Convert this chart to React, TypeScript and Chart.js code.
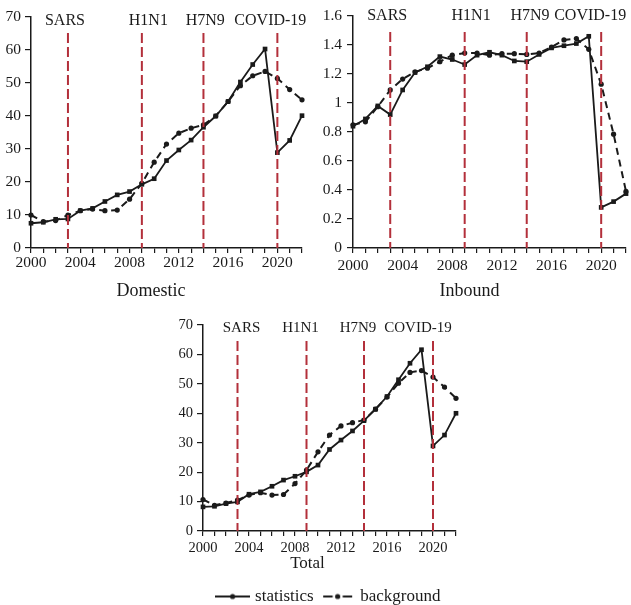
import React, { useEffect, useRef } from 'react';
import { Chart, registerables } from 'chart.js';

Chart.register(...registerables);

// ---------- data ----------
const years = [2000, 2001, 2002, 2003, 2004, 2005, 2006, 2007, 2008, 2009, 2010, 2011,
  2012, 2013, 2014, 2015, 2016, 2017, 2018, 2019, 2020, 2021, 2022];

const domesticStatistics = [7.5, 7.8, 8.7, 8.8, 11.3, 12.0, 14.1, 16.1, 17.1, 19.3, 21.0, 26.5,
  29.7, 32.7, 36.6, 40.0, 44.4, 50.3, 55.6, 60.3, 28.9, 32.6, 40.1];
const domesticBackground = [10.0, 8.0, 8.3, 10.0, 11.3, 11.8, 11.3, 11.5, 14.8, 19.6, 26.0, 31.5,
  34.8, 36.3, 37.3, 40.0, 44.4, 49.2, 52.2, 53.5, 51.4, 48.0, 44.9];

const inboundStatistics = [0.84, 0.89, 0.98, 0.92, 1.09, 1.21, 1.25, 1.32, 1.30, 1.265, 1.33, 1.35,
  1.33, 1.29, 1.285, 1.335, 1.38, 1.395, 1.41, 1.46, 0.28, 0.32, 0.375];
const inboundBackground = [0.85, 0.87, 0.975, 1.09, 1.165, 1.215, 1.24, 1.285, 1.33, 1.345, 1.345, 1.33,
  1.34, 1.34, 1.335, 1.345, 1.385, 1.435, 1.445, 1.37, 1.13, 0.785, 0.39];

const totalStatistics = [8.2, 8.4, 9.3, 9.9, 12.5, 13.3, 15.2, 17.3, 18.6, 20.1, 22.4, 27.7,
  30.9, 34.0, 37.5, 41.4, 45.7, 51.4, 57.0, 61.6, 28.9, 32.6, 40.0];
const totalBackground = [10.7, 8.75, 9.5, 10.5, 12.2, 13.0, 12.2, 12.4, 16.1, 20.7, 26.9, 32.6,
  35.7, 36.8, 37.7, 41.4, 45.5, 50.2, 53.9, 54.5, 52.3, 48.9, 45.1];

const seriesNames = ['statistics', 'background'];
const eventYears = [2003, 2009, 2014, 2020];
const eventNames = ['SARS', 'H1N1', 'H7N9', 'COVID-19'];
const xLabelEvery = 4;

// ---------- styling ----------
const SERIF = '"Liberation Serif", "Times New Roman", serif';
const INK = '#1a1a1a';
const EVENT_RED = '#b3303b';

type PanelCfg = {
  x: number; y: number; w: number; h: number;
  title: string; titleSize: number; titleWeight?: number; titlePadBottom: number;
  stats: number[]; bg: number[];
  yMax: number; yStep: number;
  padTop: number; padRight: number;
  yWidth: number; xHeight: number;
  xPad: number; yPad: number;
  tickSize: number;
  eventSize: number; eventDx: number[]; eventDy: number;
  legend: boolean;
};

function makeSwatch(dashed: boolean): HTMLCanvasElement {
  const c = document.createElement('canvas');
  c.width = 35; c.height = 8;
  const g = c.getContext('2d')!;
  g.strokeStyle = INK; g.lineWidth = 2;
  g.beginPath();
  if (dashed) {
    g.moveTo(3, 4); g.lineTo(12.5, 4);
    g.moveTo(22.5, 4); g.lineTo(32, 4);
  } else {
    g.moveTo(0, 4); g.lineTo(35, 4);
  }
  g.stroke();
  g.fillStyle = INK; g.beginPath(); g.arc(17.5, 4, 2.6, 0, Math.PI * 2); g.fill();
  return c;
}

function makeEventPlugin(cfg: PanelCfg) {
  return {
    id: 'eventLines',
    afterDatasetsDraw(chart: any) {
      const { ctx, chartArea, scales } = chart;
      const xs = scales.x;
      ctx.save();
      ctx.strokeStyle = EVENT_RED;
      ctx.lineWidth = 2;
      ctx.setLineDash([10, 4]);
      eventYears.forEach((yr) => {
        const px = xs.getPixelForValue(yr);
        ctx.beginPath();
        ctx.moveTo(px, chartArea.top + 16);
        ctx.lineTo(px, chartArea.bottom);
        ctx.stroke();
      });
      ctx.setLineDash([]);
      ctx.fillStyle = INK;
      ctx.font = `${cfg.eventSize}px ${SERIF}`;
      ctx.textAlign = 'center';
      ctx.textBaseline = 'middle';
      eventNames.forEach((name, i) => {
        const px = xs.getPixelForValue(eventYears[i]);
        ctx.fillText(name, px + cfg.eventDx[i], chartArea.top + cfg.eventDy);
      });
      ctx.restore();
    },
  };
}

function buildConfig(cfg: PanelCfg): any {
  const toPoints = (arr: number[]) => years.map((x, i) => ({ x, y: arr[i] }));
  const swatches = [makeSwatch(false), makeSwatch(true)];
  return {
    type: 'line',
    data: {
      datasets: [
        {
          label: seriesNames[0],
          data: toPoints(cfg.stats),
          borderColor: INK,
          borderWidth: 1.8,
          pointStyle: 'rect',
          pointRadius: 3.3,
          pointBackgroundColor: INK,
          pointBorderWidth: 0,
          tension: 0,
          clip: false,
        },
        {
          label: seriesNames[1],
          data: toPoints(cfg.bg),
          borderColor: INK,
          borderWidth: 2,
          borderDash: [7, 5],
          pointStyle: 'circle',
          pointRadius: 2.6,
          pointBackgroundColor: INK,
          pointBorderWidth: 0,
          tension: 0,
          clip: false,
        },
      ],
    },
    options: {
      responsive: false,
      animation: false,
      events: [],
      layout: { padding: { top: cfg.padTop, right: cfg.padRight, left: 0, bottom: 0 } },
      scales: {
        x: {
          type: 'linear',
          min: years[0],
          max: years[years.length - 1],
          afterFit: (s: any) => { s.height = cfg.xHeight; },
          border: { display: true, color: INK, width: 1.5 },
          grid: { display: true, drawOnChartArea: false, drawTicks: true, tickLength: 5, color: INK, lineWidth: 1.2 },
          ticks: {
            stepSize: 1,
            autoSkip: false,
            maxRotation: 0,
            padding: cfg.xPad,
            color: INK,
            font: { family: SERIF, size: cfg.tickSize },
            callback: (v: number) => (v % xLabelEvery === 0 ? String(v) : ''),
          },
        },
        y: {
          type: 'linear',
          min: 0,
          max: cfg.yMax,
          afterFit: (s: any) => { s.width = cfg.yWidth; },
          border: { display: true, color: INK, width: 1.5 },
          grid: { display: true, drawOnChartArea: false, drawTicks: true, tickLength: 6, color: INK, lineWidth: 1.2 },
          ticks: {
            stepSize: cfg.yStep,
            padding: cfg.yPad,
            color: INK,
            font: { family: SERIF, size: cfg.tickSize },
            callback: (v: number) => String(Number(v.toFixed(2))),
          },
        },
      },
      plugins: {
        tooltip: { enabled: false },
        title: {
          display: true,
          text: cfg.title,
          position: 'bottom',
          weight: cfg.titleWeight ?? 2000,
          color: INK,
          padding: { top: 0, bottom: cfg.titlePadBottom },
          font: { family: SERIF, size: cfg.titleSize, weight: 'normal', lineHeight: 1 },
        },
        legend: {
          display: cfg.legend,
          position: 'bottom',
          fullSize: false,
          labels: {
            usePointStyle: true,
            pointStyleWidth: 28,
            padding: 10,
            color: INK,
            font: { family: SERIF, size: 17 },
            generateLabels: (chart: any) =>
              chart.data.datasets.map((ds: any, i: number) => ({
                text: ds.label,
                pointStyle: swatches[i],
                fillStyle: INK,
                strokeStyle: INK,
                lineWidth: 0,
                hidden: false,
                datasetIndex: i,
                fontColor: INK,
              })),
          },
        },
      },
    },
    plugins: [makeEventPlugin(cfg)],
  };
}

const panels: PanelCfg[] = [
  {
    x: 0, y: 0, w: 312, h: 300,
    title: 'Domestic', titleSize: 18, titlePadBottom: 0,
    stats: domesticStatistics, bg: domesticBackground,
    yMax: 70, yStep: 10,
    padTop: 17, padRight: 10, yWidth: 31, xHeight: 34,
    xPad: 1, yPad: 4, tickSize: 15.5,
    eventSize: 16, eventDx: [-3, 6.5, 1.8, -7], eventDy: 3.5,
    legend: false,
  },
  {
    x: 313, y: 0, w: 318, h: 300,
    title: 'Inbound', titleSize: 18, titlePadBottom: 0,
    stats: inboundStatistics, bg: inboundBackground,
    yMax: 1.6, yStep: 0.2,
    padTop: 16, padRight: 5, yWidth: 40, xHeight: 34,
    xPad: 4, yPad: 5, tickSize: 15.5,
    eventSize: 16, eventDx: [-3, 6.4, 3.3, -11], eventDy: 0,
    legend: false,
  },
  {
    x: 159, y: 300, w: 307, h: 315,
    title: 'Total', titleSize: 17, titleWeight: 500, titlePadBottom: 6,
    stats: totalStatistics, bg: totalBackground,
    yMax: 70, yStep: 10,
    padTop: 25, padRight: 10, yWidth: 44, xHeight: 24,
    xPad: 3, yPad: 4, tickSize: 14.5,
    eventSize: 15, eventDx: [4, -6, -6, -15], eventDy: 2.7,
    legend: true,
  },
];

function Panel({ cfg }: { cfg: PanelCfg }) {
  const ref = useRef<HTMLCanvasElement>(null);
  useEffect(() => {
    const chart = new Chart(ref.current as HTMLCanvasElement, buildConfig(cfg));
    return () => chart.destroy();
  }, [cfg]);
  return (
    <canvas
      ref={ref}
      width={cfg.w}
      height={cfg.h}
      style={{ position: 'absolute', left: cfg.x, top: cfg.y, width: cfg.w, height: cfg.h, display: 'block' }}
    />
  );
}

export default function App() {
  return (
    <div
      style={{
        position: 'absolute', left: 0, top: 0, width: 631, height: 605,
        overflow: 'hidden', background: '#ffffff',
      }}
    >
      {panels.map((p) => (
        <Panel key={p.title} cfg={p} />
      ))}
    </div>
  );
}
